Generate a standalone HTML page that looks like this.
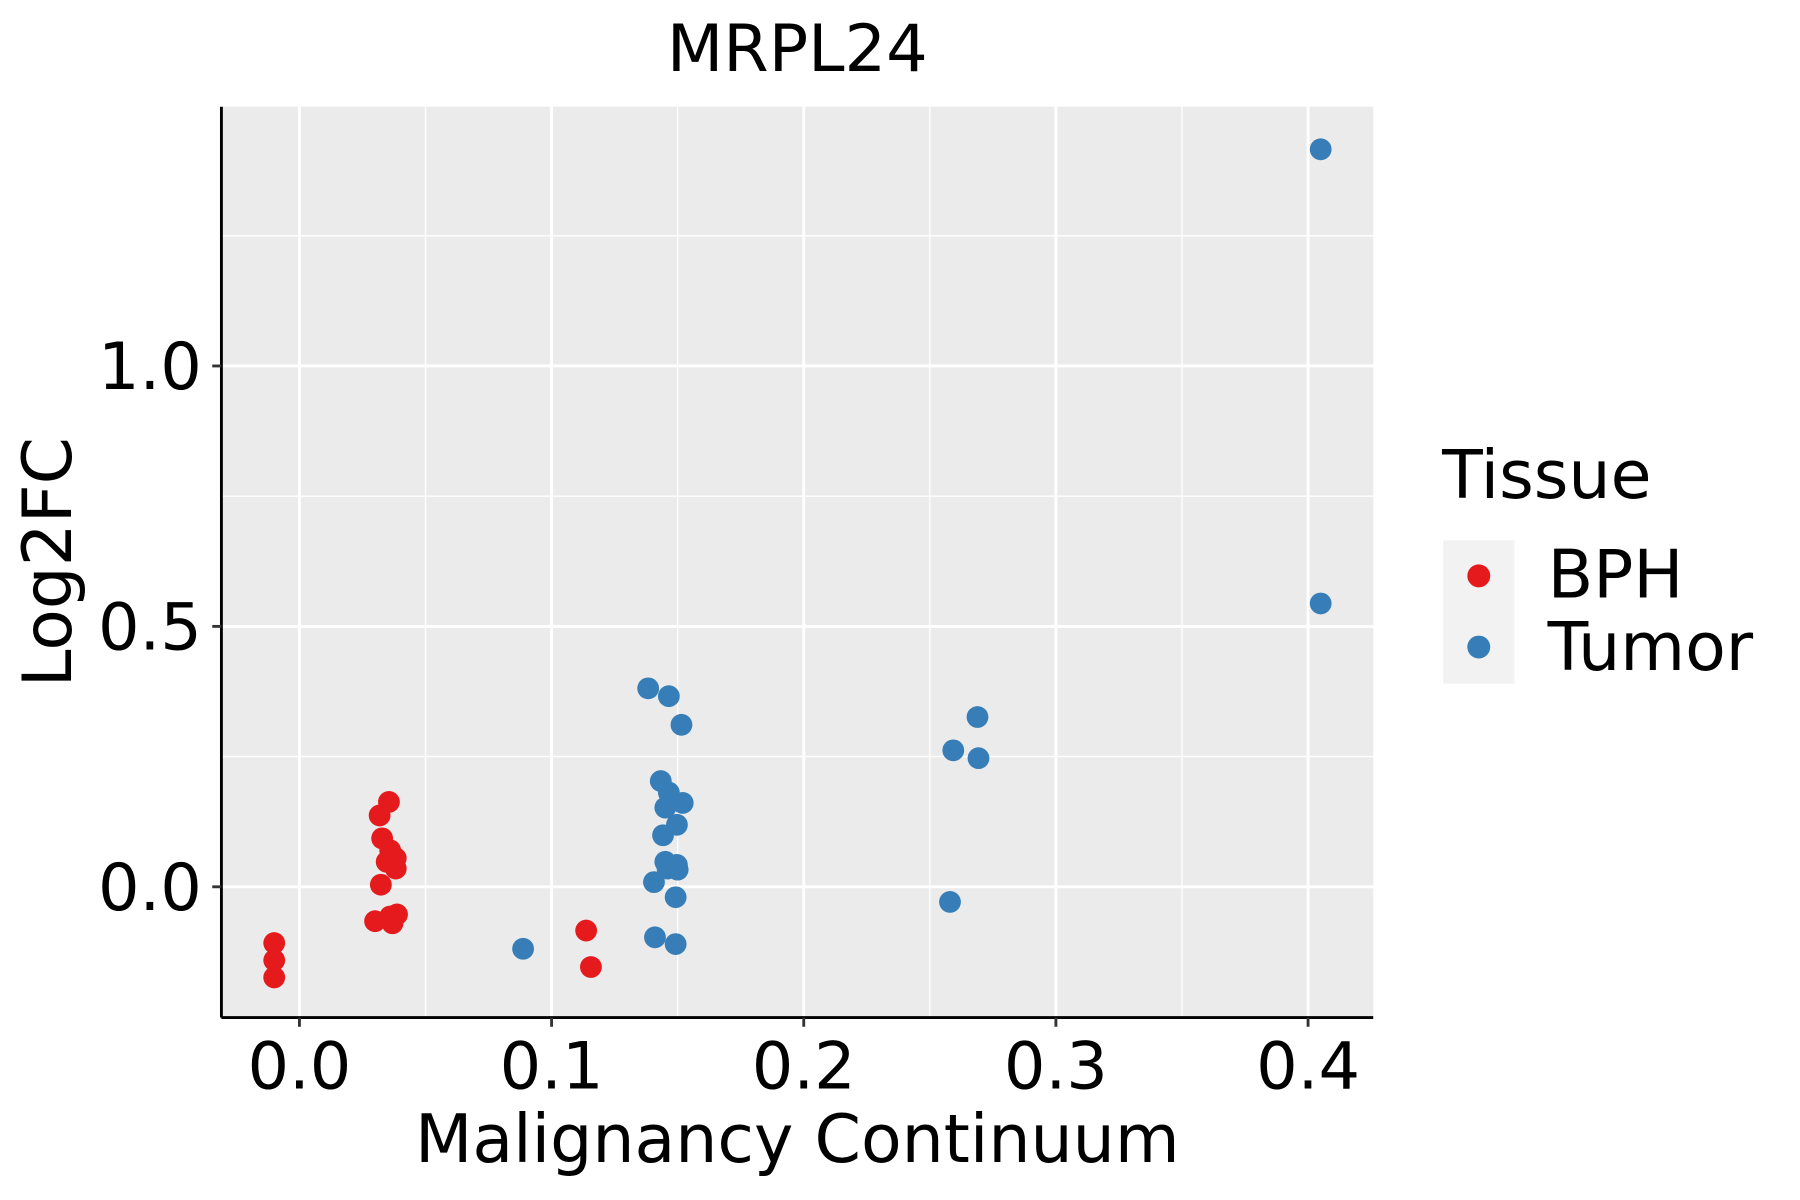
<!DOCTYPE html>
<html><head><meta charset="utf-8"><style>
html,body{margin:0;padding:0;background:#fff;}
svg{display:block;font-family:"DejaVu Sans","Liberation Sans",sans-serif;}
</style></head><body>
<svg id="chart" width="1800" height="1200" viewBox="0 0 1569 1046" xmlns="http://www.w3.org/2000/svg">
<rect width="1569" height="1046" fill="#fff"/>
<text x="695" y="62" font-size="57" text-anchor="middle">MRPL24</text>
<rect x="193" y="93" width="1004" height="794" fill="#ebebeb"/>
<g id="grid"></g>
<g id="points"></g>
<line x1="193" y1="887" x2="1197" y2="887" stroke="#000" stroke-width="2.5"/>
<line x1="193" y1="93" x2="193" y2="887" stroke="#000" stroke-width="2.5"/>
<g id="ticks"></g>
<text x="695" y="1013" font-size="58" text-anchor="middle">Malignancy Continuum</text>
<text transform="translate(62,490) rotate(-90)" font-size="59" text-anchor="middle">Log2FC</text>
<g>
<text x="1257" y="434" font-size="58">Tissue</text>
<rect x="1258" y="471" width="62" height="125" fill="#f2f2f2"/>
<circle cx="1289" cy="502" r="10" fill="#e41a1c"/>
<circle cx="1289" cy="564" r="10" fill="#377eb8"/>
<text x="1349" y="521" font-size="58">BPH</text>
<text x="1349" y="584" font-size="58">Tumor</text>
</g>
</svg>
<script>
const bphX = [-0.010,-0.010,-0.010,0.0318,0.0355,0.0328,0.036,0.0382,0.0346,0.0382,0.0323,0.030,0.0369,0.0387,0.036,0.1137,0.1156];
const bphY = [-0.108,-0.141,-0.174,0.137,0.163,0.093,0.070,0.055,0.048,0.035,0.004,-0.066,-0.070,-0.053,-0.057,-0.084,-0.154];
const tumorX = [0.0887,0.1383,0.1465,0.1515,0.1433,0.1465,0.152,0.1451,0.1497,0.1442,0.1451,0.1497,0.146,0.150,0.1406,0.1492,0.141,0.1492,0.2593,0.2689,0.2693,0.258,0.405,0.405];
const tumorY = [-0.119,0.381,0.366,0.311,0.203,0.181,0.161,0.152,0.119,0.099,0.048,0.042,0.035,0.033,0.009,-0.020,-0.097,-0.110,0.262,0.326,0.247,-0.029,1.416,0.544];
const xTicks = [0.0,0.1,0.2,0.3,0.4];
const xTickLabels = ["0.0","0.1","0.2","0.3","0.4"];
const yTicks = [0.0,0.5,1.0];
const yTickLabels = ["0.0","0.5","1.0"];
const xMinor = [0.05,0.15,0.25,0.35];
const yMinor = [0.25,0.75,1.25];

const X0=261, XS=2198, Y0=773, YS=454;
function sx(v){return X0+v*XS;}
function sy(v){return Y0-v*YS;}
const NS="http://www.w3.org/2000/svg";
function mk(tag,attrs,parent){const e=document.createElementNS(NS,tag);for(const k in attrs)e.setAttribute(k,attrs[k]);parent.appendChild(e);return e;}
const grid=document.getElementById('grid'), ticks=document.getElementById('ticks'), pts=document.getElementById('points');
xMinor.forEach(v=>{const l=mk('line',{x1:sx(v),x2:sx(v),y1:93,y2:887,stroke:'#fff','stroke-width':1.2},grid);

});
yMinor.forEach(v=>{const l=mk('line',{x1:193,x2:1197,y1:sy(v),y2:sy(v),stroke:'#fff','stroke-width':1.2},grid);

});
xTicks.forEach((v,i)=>{const l=mk('line',{x1:sx(v),x2:sx(v),y1:93,y2:887,stroke:'#fff','stroke-width':2.5},grid);


const t=mk('line',{x1:sx(v),x2:sx(v),y1:887,y2:895,stroke:'#333','stroke-width':2.5},ticks);


const tx=mk('text',{x:sx(v),y:949,'font-size':57,'text-anchor':'middle'},ticks);tx.textContent=xTickLabels[i];

});
yTicks.forEach((v,i)=>{const l=mk('line',{x1:193,x2:1197,y1:sy(v),y2:sy(v),stroke:'#fff','stroke-width':2.5},grid);


const t=mk('line',{x1:185,x2:193,y1:sy(v),y2:sy(v),stroke:'#333','stroke-width':2.5},ticks);


const tx=mk('text',{x:176,y:sy(v)+20,'font-size':57,'text-anchor':'end'},ticks);tx.textContent=yTickLabels[i];

});
bphX.forEach((v,i)=>{const c=mk('circle',{cx:sx(v),cy:sy(bphY[i]),r:9.5,fill:'#e41a1c'},pts);

});
tumorX.forEach((v,i)=>{const c=mk('circle',{cx:sx(v),cy:sy(tumorY[i]),r:9.5,fill:'#377eb8'},pts);

});
</script>
</body></html>
